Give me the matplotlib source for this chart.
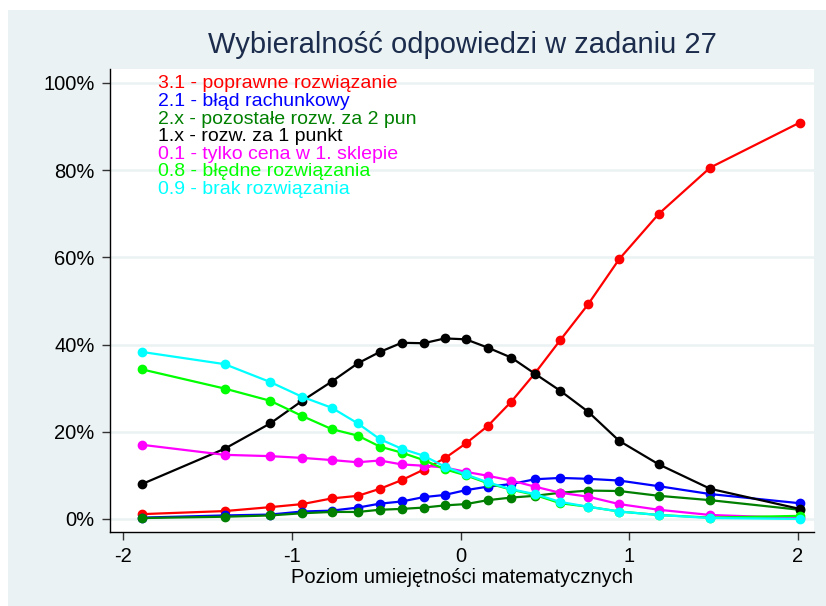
import matplotlib
matplotlib.use("Agg")
import matplotlib.pyplot as plt
from matplotlib.patches import Rectangle
from matplotlib.ticker import FuncFormatter

plt.rcParams["font.family"] = ["Liberation Sans", "DejaVu Sans"]

# ability level (x) for each of the 20 groups
poziom = [-1.89, -1.40, -1.13, -0.94, -0.765, -0.61, -0.48, -0.35, -0.22, -0.095,
          0.03, 0.16, 0.30, 0.44, 0.59, 0.755, 0.94, 1.175, 1.48, 2.01]

# share choosing each answer, in percent
popr_31 = [1.1, 1.8, 2.7, 3.4, 4.7, 5.3, 6.9, 8.9, 11.3, 13.9,
           17.3, 21.3, 26.9, 33.4, 41.0, 49.2, 59.6, 70.0, 80.6, 90.9]
blad_21 = [0.3, 0.8, 1.0, 1.7, 1.9, 2.6, 3.5, 4.0, 5.0, 5.5,
           6.6, 7.4, 8.0, 9.1, 9.4, 9.2, 8.8, 7.5, 5.7, 3.6]
poz_2x = [0.2, 0.5, 0.8, 1.3, 1.6, 1.6, 2.1, 2.3, 2.6, 3.1,
          3.4, 4.3, 4.9, 5.3, 6.0, 6.5, 6.4, 5.3, 4.3, 2.1]
jeden_1x = [8.0, 16.1, 21.9, 27.1, 31.5, 35.7, 38.3, 40.4, 40.3, 41.4,
            41.2, 39.3, 37.0, 33.3, 29.4, 24.6, 17.9, 12.5, 6.9, 2.3]
cena_01 = [17.0, 14.7, 14.4, 14.0, 13.5, 13.0, 13.4, 12.5, 12.2, 11.8,
           10.8, 9.9, 8.8, 7.4, 6.0, 5.1, 3.4, 2.1, 0.9, 0.2]
bledne_08 = [34.3, 29.9, 27.1, 23.6, 20.6, 19.1, 16.6, 15.2, 13.5, 11.4,
             10.0, 8.2, 6.7, 5.5, 3.6, 2.8, 1.7, 0.9, 0.3, 0.7]
brak_09 = [38.3, 35.5, 31.4, 28.0, 25.5, 21.9, 18.3, 16.1, 14.5, 12.0,
           10.2, 8.4, 6.8, 5.7, 3.9, 2.8, 1.7, 0.9, 0.2, 0.0]

etykiety = ["3.1 - poprawne rozwiązanie", "2.1 - błąd rachunkowy",
            "2.x - pozostałe rozw. za 2 pun", "1.x - rozw. za 1 punkt",
            "0.1 - tylko cena w 1. sklepie", "0.8 - błędne rozwiązania",
            "0.9 - brak rozwiązania"]
serie = [popr_31, blad_21, poz_2x, jeden_1x, cena_01, bledne_08, brak_09]
kolory = ["#ff0000", "#0000ff", "#008000", "#000000", "#ff00ff", "#00ff00", "#00ffff"]

BG = "#eaf2f3"

fig = plt.figure(figsize=(8.26, 6.06), dpi=100, facecolor="white")
fig.patches.append(Rectangle((8 / 826, 0), 1, 1 - 10 / 606, transform=fig.transFigure,
                             facecolor=BG, edgecolor="none", zorder=-10))

ax = fig.add_axes([110 / 826, 1 - 532 / 606, (814 - 110) / 826, (532 - 69) / 606])
ax.set_facecolor("white")

for y, c in zip(serie, kolory):
    ax.plot(poziom, y, color=c, lw=1.6, marker="o", ms=6, mec=c, mfc=c, zorder=3)

ax.set_xlim(-2.08, 2.095)
ax.set_ylim(-3.0, 103.2)
ax.set_xticks([-2, -1, 0, 1, 2])
ax.set_xticklabels(["-2", "-1", "0", "1", "2"])
ax.set_yticks([0, 20, 40, 60, 80, 100])
ax.yaxis.set_major_formatter(FuncFormatter(lambda v, p: f"{v:.0f}%"))

for v in [0, 20, 40, 60, 80, 100]:
    ax.axhline(v, color=BG, lw=1.8, zorder=1)

for s in ["top", "right"]:
    ax.spines[s].set_visible(False)
for s in ["left", "bottom"]:
    ax.spines[s].set_color("black")
    ax.spines[s].set_linewidth(1.0)

ax.tick_params(axis="both", direction="out", length=6, width=1.0, color="#333333",
               labelsize=14.5, labelcolor="black", pad=5)
ax.tick_params(axis="x", pad=5)

ax.set_xlabel("Poziom umiejętności matematycznych", fontsize=14.5, labelpad=1)

# legend written as coloured text lines
for i, (t, c) in enumerate(zip(etykiety, kolory)):
    fig.text(158 / 826, 1 - (84 + i * 17.5) / 606, t, color=c, fontsize=14,
             ha="left", va="center")

fig.text(462 / 826, 1 - 45 / 606, "Wybieralność odpowiedzi w zadaniu 27",
         color="#1c2c4c", fontsize=21, ha="center", va="center")

fig.savefig("out.png", dpi=100, facecolor=fig.get_facecolor())
